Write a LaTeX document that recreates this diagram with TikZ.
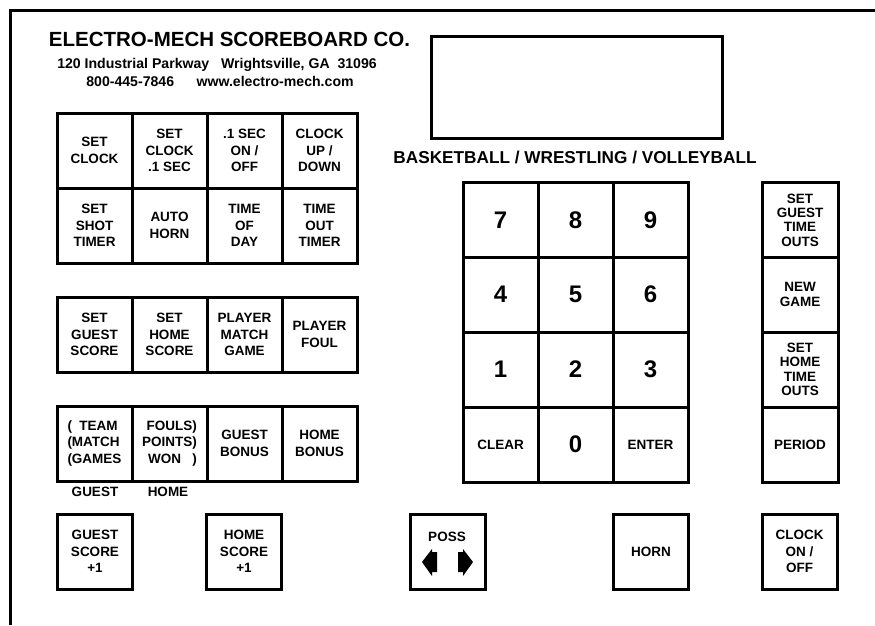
\documentclass[tikz,border=0pt]{standalone}
\usepackage{fontspec}
\setmainfont{Liberation Sans}
\begin{document}
\begin{tikzpicture}[x=1pt,y=-1pt,
  btn/.style={draw,line width=3pt,minimum width=75pt,minimum height=75pt,inner sep=0pt,outer sep=0pt,align=center,
    font=\fontsize{13.5}{16.5}\selectfont\bfseries},
  tightbtn/.style={btn,minimum width=76pt,font=\fontsize{13.5}{14.4}\selectfont\bfseries},
  digit/.style={btn,font=\fontsize{24}{28}\selectfont\bfseries},
  lbl/.style={inner sep=0pt,font=\fontsize{13.5}{16}\selectfont\bfseries},
  arrowshape/.style={fill=black}]
\useasboundingbox (0,0) rectangle (875,625);
% outer frame
\coordinate (fa) at (10.5,625);
\coordinate (fb) at (10.5,10);
\coordinate (fc) at (875,10);
\draw[line width=3pt] (fa) -- (fb) -- (fc);
% header
\node[inner sep=0pt,font=\fontsize{20.5}{24}\selectfont\bfseries] (title) at (229.5,39) {ELECTRO-MECH SCOREBOARD CO.};
\node[inner sep=0pt,font=\fontsize{14.1}{16}\selectfont\bfseries] (addr) at (217,65) {120 Industrial Parkway\ \ \ Wrightsville, GA\ \ 31096};
\node[inner sep=0pt,font=\fontsize{14.1}{16}\selectfont\bfseries] (web) at (220,81) {800-445-7846\hspace{1.6em}www.electro-mech.com};
% display
\node[draw,line width=3pt,minimum width=291pt,minimum height=102pt,inner sep=0pt] (display) at (576.5,87) {};
\node[inner sep=0pt,font=\fontsize{17.2}{20}\selectfont\bfseries] (sport) at (575,157) {BASKETBALL / WRESTLING / VOLLEYBALL};
% left block rows 1-2
\node[btn] (setclock) at (94.5,150.5) {SET\\CLOCK};
\node[btn] (setclocktenth) at (169.5,150.5) {SET\\CLOCK\\.1 SEC};
\node[btn] (tenthonoff) at (244.5,150.5) {.1 SEC\\ON /\\OFF};
\node[btn] (updown) at (319.5,150.5) {CLOCK\\UP /\\DOWN};
\node[btn] (shot) at (94.5,225.5) {SET\\SHOT\\TIMER};
\node[btn] (autohorn) at (169.5,225.5) {AUTO\\HORN};
\node[btn] (tod) at (244.5,225.5) {TIME\\OF\\DAY};
\node[btn] (totimer) at (319.5,225.5) {TIME\\OUT\\TIMER};
% row 3
\node[btn] (setguest) at (94.5,334.5) {SET\\GUEST\\SCORE};
\node[btn] (sethome) at (169.5,334.5) {SET\\HOME\\SCORE};
\node[btn] (pmg) at (244.5,334.5) {PLAYER\\MATCH\\GAME};
\node[btn] (pfoul) at (319.5,334.5) {PLAYER\\FOUL};
% row 4
\node[btn] (team) at (94.5,443.5) {\begin{tabular}{@{}l@{}}(\ \ TEAM\\(MATCH\\(GAMES\end{tabular}};
\node[btn] (fouls) at (169.5,443.5) {\begin{tabular}{@{}r@{}}FOULS)\\POINTS)\\WON\ \ \ )\end{tabular}};
\node[btn] (gbonus) at (244.5,443.5) {GUEST\\BONUS};
\node[btn] (hbonus) at (319.5,443.5) {HOME\\BONUS};
\node[lbl] (guestlbl) at (95,492) {GUEST};
\node[lbl] (homelbl) at (168,492) {HOME};
% keypad
\node[digit] (k7) at (500.5,220) {7};
\node[digit] (k8) at (575.5,220) {8};
\node[digit] (k9) at (650.5,220) {9};
\node[digit] (k4) at (500.5,294.5) {4};
\node[digit] (k5) at (575.5,294.5) {5};
\node[digit] (k6) at (650.5,294.5) {6};
\node[digit] (k1) at (500.5,369.5) {1};
\node[digit] (k2) at (575.5,369.5) {2};
\node[digit] (k3) at (650.5,369.5) {3};
\node[btn] (clear) at (500.5,444.5) {CLEAR};
\node[digit] (k0) at (575.5,444.5) {0};
\node[btn] (enter) at (650.5,444.5) {ENTER};
% right column
\node[tightbtn] (sgto) at (800,220) {SET\\GUEST\\TIME\\OUTS};
\node[tightbtn] (newgame) at (800,294.5) {NEW\\GAME};
\node[tightbtn] (shto) at (800,369.5) {SET\\HOME\\TIME\\OUTS};
\node[tightbtn] (period) at (800,444.5) {PERIOD};
% bottom row
\node[btn] (gplus) at (95,551.5) {GUEST\\SCORE\\+1};
\node[btn] (hplus) at (244,551.5) {HOME\\SCORE\\+1};
\node[btn] (poss) at (447.5,551.5) {};
\node[lbl] (posstext) at (447,537) {POSS};
\fill[arrowshape] (422,562) -- (432,549) -- (432,552) -- (437,552) -- (437,572) -- (432,572) -- (432,576) -- cycle;
\fill[arrowshape] (473,562) -- (463,549) -- (463,552) -- (458,552) -- (458,572) -- (463,572) -- (463,576) -- cycle;
\node[btn] (horn) at (651,551.5) {HORN};
\node[btn] (clockonoff) at (799.5,551.5) {CLOCK\\ON /\\OFF};
\end{tikzpicture}
\end{document}
